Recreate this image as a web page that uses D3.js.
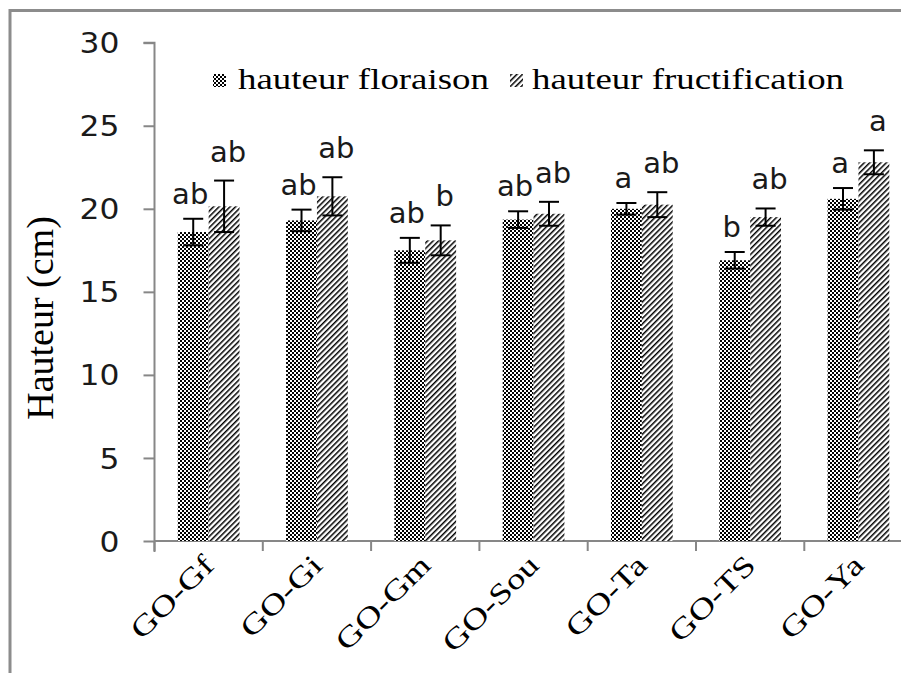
<!DOCTYPE html>
<html><head><meta charset="utf-8">
<script src="https://cdn.jsdelivr.net/npm/d3@7"></script>
<style>html,body{margin:0;padding:0;background:#fff;overflow:hidden}</style>
</head><body>
<svg id="chart" width="901" height="673"></svg>
<script>
const categories = ["GO-Gf","GO-Gi","GO-Gm","GO-Sou","GO-Ta","GO-TS","GO-Ya"];
const floraison = [18.6, 19.3, 17.5, 19.35, 20.0, 16.9, 20.6];
const floraisonErr = [0.8, 0.65, 0.75, 0.5, 0.35, 0.5, 0.65];
const fructification = [20.15, 20.75, 18.1, 19.7, 20.25, 19.5, 22.8];
const fructificationErr = [1.55, 1.15, 0.9, 0.72, 0.75, 0.52, 0.72];
const lettersFloraison = ["ab","ab","ab","ab","a","b","a"];
const lettersFructification = ["ab","ab","b","ab","ab","ab","a"];
const seriesNames = ["hauteur floraison","hauteur fructification"];
const yTicks = [0,5,10,15,20,25,30];

const svg = d3.select("#chart");
const defs = svg.append("defs");
const chk = defs.append("pattern").attr("id","chk").attr("patternUnits","userSpaceOnUse")
  .attr("width",4).attr("height",4);
chk.append("rect").attr("width",4).attr("height",4).attr("fill","#fff");
chk.append("rect").attr("width",2).attr("height",2).attr("fill","#000");
chk.append("rect").attr("x",2).attr("y",2).attr("width",2).attr("height",2).attr("fill","#000");
const hat = defs.append("pattern").attr("id","hat").attr("patternUnits","userSpaceOnUse")
  .attr("width",3.9).attr("height",10).attr("patternTransform","rotate(45)");
hat.append("rect").attr("width",3.9).attr("height",10).attr("fill","#fff");
hat.append("rect").attr("width",1.5).attr("height",10).attr("fill","#000");

const fills = ["url(#chk)","url(#hat)"];
const axisColor = "#878787";

svg.append("line").attr("x1",10).attr("x2",901).attr("y1",10.5).attr("y2",10.5)
  .attr("stroke","#8c8c8c").attr("stroke-width",3);
svg.append("line").attr("x1",10).attr("x2",10).attr("y1",9).attr("y2",673)
  .attr("stroke","#8c8c8c").attr("stroke-width",3);

const x0 = 154.5, step = 108.3;
const x = d3.scaleBand().domain(categories).range([x0, x0 + step*categories.length])
  .paddingInner(0.43).paddingOuter(0.215);
const xs = d3.scaleBand().domain([0,1]).range([0, x.bandwidth()]);
const y = d3.scaleLinear().domain([0,30]).range([541, 42.7]);

const yAxis = svg.append("g").attr("transform",`translate(${x0},0)`)
  .call(d3.axisLeft(y).tickValues(yTicks).tickSize(11).tickPadding(24));
yAxis.select(".domain").attr("stroke",axisColor).attr("stroke-width",2)
  .attr("d",`M-11,${y(30)}H0V${y(0)+11}`);
yAxis.selectAll(".tick line").attr("stroke",axisColor).attr("stroke-width",2);
yAxis.selectAll(".tick text").attr("font-family","DejaVu Sans").attr("font-size",28)
  .attr("fill","#1a1a1a").attr("dy","0.36em")
  .each(function(){ const w=this.getComputedTextLength(); d3.select(this).attr("textLength",w*1.12).attr("lengthAdjust","spacingAndGlyphs"); });

const xAxisG = svg.append("g").attr("transform",`translate(0,${y(0)})`);
xAxisG.append("line").attr("x1",x0).attr("x2",901).attr("y1",0).attr("y2",0)
  .attr("stroke",axisColor).attr("stroke-width",2);
const boundaries = d3.range(categories.length+1).map(i => x0 + i*step);
xAxisG.selectAll(".xt").data(boundaries).join("line").attr("class","xt")
  .attr("x1",d=>d).attr("x2",d=>d).attr("y1",0).attr("y2",10)
  .attr("stroke",axisColor).attr("stroke-width",2);

const xl = svg.append("g").selectAll("text").data(categories).join("text")
  .attr("font-family","Liberation Serif").attr("font-size",29).attr("fill","#000")
  .attr("text-anchor","end")
  .attr("transform",d=>`translate(${x(d)+x.bandwidth()/2+7},${567}) rotate(-45)`)
  .text(d=>d);
xl.each(function(){ const w=this.getComputedTextLength(); d3.select(this).attr("textLength",w*1.27).attr("lengthAdjust","spacingAndGlyphs"); });

const series = [floraison, fructification];
const errs = [floraisonErr, fructificationErr];
const letters = [lettersFloraison, lettersFructification];
const gap = [15, 19], shift = [-3, 4];
series.forEach((vals, s) => {
  const g = svg.append("g");
  g.selectAll("rect").data(categories).join("rect")
    .attr("x", c => x(c) + xs(s)).attr("width", xs.bandwidth())
    .attr("y", (c,i) => y(vals[i])).attr("height", (c,i) => y(0) - y(vals[i]))
    .attr("fill", fills[s]);
});
series.forEach((vals, s) => {
  const g = svg.append("g");
  categories.forEach((c,i) => {
    const cx = x(c) + xs(s) + xs.bandwidth()/2;
    const top = y(vals[i] + errs[s][i]), bot = y(vals[i] - errs[s][i]);
    g.append("line").attr("x1",cx).attr("x2",cx).attr("y1",top).attr("y2",bot)
      .attr("stroke","#000").attr("stroke-width",2);
    [top,bot].forEach(yy => g.append("line").attr("x1",cx-10).attr("x2",cx+10)
      .attr("y1",yy).attr("y2",yy).attr("stroke","#000").attr("stroke-width",2));
    g.append("text").attr("x",cx+shift[s]).attr("y",top-gap[s]).attr("text-anchor","middle")
      .attr("font-family","DejaVu Sans").attr("font-size",29).attr("fill","#1a1a1a")
      .text(letters[s][i]);
  });
});

const leg = svg.append("g");
const legX = [213, 510], legTextX = [238, 532], legW = [251, 312];
seriesNames.forEach((n,i) => {
  leg.append("rect").attr("x",legX[i]).attr("y",74).attr("width",13).attr("height",13)
    .attr("fill",fills[i]);
  leg.append("text").attr("x",legTextX[i]).attr("y",89)
    .attr("font-family","Liberation Serif").attr("font-size",29).attr("fill","#000")
    .attr("textLength",legW[i]).attr("lengthAdjust","spacingAndGlyphs").text(n);
});

svg.append("text").attr("transform","translate(53,318) rotate(-90)")
  .attr("text-anchor","middle").attr("font-family","Liberation Serif")
  .attr("font-size",38).attr("fill","#000").text("Hauteur (cm)");
</script>
</body></html>
